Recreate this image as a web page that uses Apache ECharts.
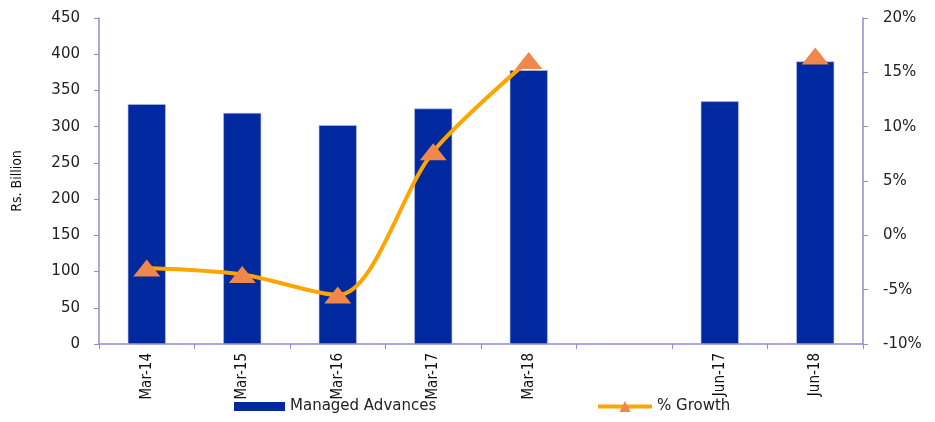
<!DOCTYPE html>
<html><head><meta charset="utf-8">
<script src="https://cdn.jsdelivr.net/npm/echarts@6/dist/echarts.min.js"></script>
<style>html,body{margin:0;padding:0;background:#fff}#c{width:935px;height:422px}</style>
</head><body><div id="c"></div>
<script>
const categories = ['Mar-14','Mar-15','Mar-16','Mar-17','Mar-18','','Jun-17','Jun-18'];
const advances = [331, 319, 302, 325, 378, null, 335, 390];
const growth = [-3.0, -3.6, -5.5, 7.7, 16.1, null, null, 16.5];
const leftTicks = {min:0, max:450, interval:50};
const rightTicks = {min:-10, max:20, interval:5};

const axisCol = '#8b8fc9';
const narrow = 'DejaVu Sans Condensed';
const chart = echarts.init(document.getElementById('c'), null, {renderer:'canvas'});
chart.setOption({
  animation:false,
  grid:{left:99, right:72, top:18, bottom:78},
  legend:[{
    bottom:3, left:229, itemWidth:51, itemHeight:9, itemGap:6,
    textStyle:{fontFamily:'DejaVu Sans', fontSize:15, color:'#222'},
    itemStyle:{borderWidth:0},
    data:[{name:'Managed Advances', icon:'rect'}]
  },{
    bottom:3, left:591, itemWidth:54, itemHeight:14, itemGap:6,
    textStyle:{fontFamily:'DejaVu Sans', fontSize:15, color:'#222'},
    lineStyle:{width:4},
    data:[{name:'% Growth'}]
  }],
  xAxis:{
    type:'category', data:categories, boundaryGap:true,
    axisLine:{lineStyle:{color:axisCol, width:1.5}},
    axisTick:{show:true, alignWithLabel:false, length:5, lineStyle:{color:axisCol}},
    axisLabel:{rotate:90, interval:0, fontFamily:narrow, fontSize:15, color:'#111', margin:9}
  },
  yAxis:[{
    type:'value', min:leftTicks.min, max:leftTicks.max, interval:leftTicks.interval,
    name:'Rs. Billion', nameLocation:'middle', nameGap:75, nameRotate:90,
    nameTextStyle:{fontFamily:narrow, fontSize:14, color:'#111'},
    axisLine:{show:true, lineStyle:{color:axisCol, width:1.5}},
    axisTick:{show:true, length:5, lineStyle:{color:axisCol}},
    splitLine:{show:false},
    axisLabel:{fontFamily:'DejaVu Sans', fontSize:15, color:'#222', margin:19}
  },{
    type:'value', min:rightTicks.min, max:rightTicks.max, interval:rightTicks.interval, position:'right',
    axisLine:{show:true, lineStyle:{color:axisCol, width:1.5}},
    axisTick:{show:true, length:5, lineStyle:{color:axisCol}},
    splitLine:{show:false},
    axisLabel:{fontFamily:'DejaVu Sans', fontSize:15, color:'#222', margin:20, formatter:'{value}%'}
  }],
  series:[{
    name:'Managed Advances', type:'bar', data:advances, barWidth:38,
    itemStyle:{color:'#0029a0', borderColor:'#b8c0e8', borderWidth:0.6}
  },{
    name:'% Growth', type:'line', yAxisIndex:1, data:growth, smooth:0.3, connectNulls:false,
    lineStyle:{color:'#ffa500', width:4},
    itemStyle:{color:'#f0884c'},
    symbol:'triangle', symbolSize:[27,17], showAllSymbol:true
  }]
});
</script></body></html>
